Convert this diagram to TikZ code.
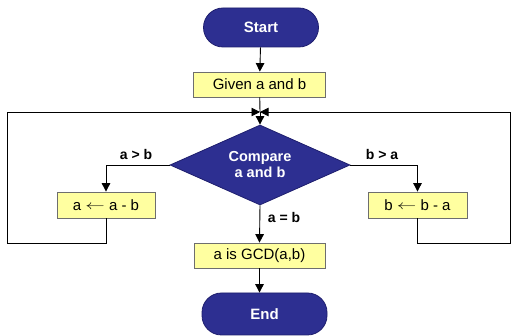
\documentclass[tikz,border=0pt]{standalone}
\usepackage{fontspec}
\setmainfont{Liberation Sans}
\usetikzlibrary{shapes.geometric,arrows.meta}
\definecolor{navy}{RGB}{45,47,145}
\definecolor{navyline}{RGB}{30,30,110}
\definecolor{pale}{RGB}{255,255,160}
\definecolor{boxline}{RGB}{110,110,110}
\newcommand{\larr}{\raisebox{0.5pt}{\scalebox{1.35}[0.9]{$\leftarrow$}}}
\tikzset{
  term/.style={draw=navyline,fill=navy,rounded corners=19.5pt,text=white,font=\fontsize{15}{17}\selectfont\bfseries,line width=0.8pt},
  proc/.style={draw=boxline,fill=pale,font=\fontsize{15}{17}\selectfont,line width=0.8pt,inner sep=0pt},
  dec/.style={diamond,aspect=2.25,draw=navyline,fill=navy,text=white,font=\fontsize{14.5}{16}\selectfont\bfseries,align=center,inner sep=0pt,line width=0.8pt},
  lbl/.style={font=\fontsize{14}{16}\selectfont\bfseries},
  arr/.style={-{Triangle[length=8.5pt,width=8.5pt]}},
  conn/.style={line width=0.9pt,draw=black}
}
\begin{document}
\begin{tikzpicture}[x=1pt,y=-1pt]
\useasboundingbox[fill=white] (0,0) rectangle (512,336);
\node[term,minimum width=115pt,minimum height=39pt] (start) at (261,27.5) {Start};
\node[proc,minimum width=132pt,minimum height=25pt] (given) at (259.5,84.5) {Given a and b};
\node[dec,minimum width=180pt,minimum height=80pt] (cmp) at (260,165) {Compare\\a and b};
\node[proc,minimum width=98pt,minimum height=26pt] (lbox) at (106,205) {a \larr{} a - b};
\node[proc,minimum width=99pt,minimum height=26pt] (rbox) at (417.5,205) {b \larr{} b - a};
\node[proc,minimum width=131pt,minimum height=25pt] (gcd) at (259.5,255.5) {a is GCD(a,b)};
\node[term,minimum width=125pt,minimum height=42pt] (endn) at (264.5,314) {End};
\coordinate (j) at (260,112);
\coordinate (ll) at (7,243);
\coordinate (lt) at (7,112);
\coordinate (rl) at (510,243);
\coordinate (rt) at (510,112);
\node[lbl] (lgt) at (136,154) {a > b};
\node[lbl] (rgt) at (382,154) {b > a};
\node[lbl] (eq) at (284,217) {a = b};
\draw[conn,arr] (start) -- (given);
\draw[conn] (given) -- (j);
\draw[conn,arr] (j) -- (cmp.north);
\draw[conn,arr] (cmp.west) -| (lbox.north);
\draw[conn,arr] (cmp.east) -| (rbox.north);
\draw[conn,arr] (cmp.south) -- (gcd.north);
\draw[conn,arr] (gcd.south) -- (gcd.south |- endn.north);
\draw[conn,arr] (lbox.south) |- (ll) -- (lt) -- (j);
\draw[conn,arr] (rbox.south) |- (rl) -- (rt) -- (j);
\end{tikzpicture}
\end{document}
